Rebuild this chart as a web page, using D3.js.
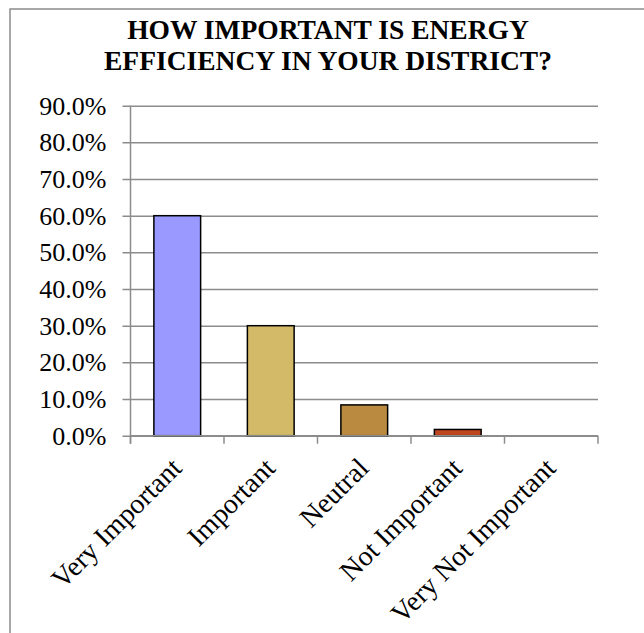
<!DOCTYPE html>
<html>
<head>
<meta charset="utf-8">
<script src="https://cdn.jsdelivr.net/npm/d3@7/dist/d3.min.js"></script>
<style>
  html, body { margin: 0; padding: 0; background: #fff; }
  svg { display: block; }
</style>
</head>
<body>
<svg id="chart" width="644" height="633"></svg>
<script>
// Survey responses: share of respondents per answer
const categories = ["Very Important", "Important", "Neutral", "Not Important", "Very Not Important"];
const values = [0.60, 0.30, 0.084, 0.017, 0.0];
const colors = ["#9999FF", "#D3BA69", "#BA8A40", "#C0461F", "#B0B0B0"];
const yTicks = [0, 0.1, 0.2, 0.3, 0.4, 0.5, 0.6, 0.7, 0.8, 0.9];
const titleLines = ["HOW IMPORTANT IS ENERGY", "EFFICIENCY IN YOUR DISTRICT?"];

const FONT = '"Liberation Serif", "Times New Roman", serif';
const GRID = "#8c8c8c";

const svg = d3.select("#chart");
const plot = { left: 130.5, right: 598, top: 105.7, bottom: 435.7 };

// Outer chart frame
svg.append("rect")
  .attr("x", 10).attr("y", 9)
  .attr("width", 800).attr("height", 800)
  .attr("fill", "none").attr("stroke", GRID).attr("stroke-width", 1.5);

// Title
svg.append("g").selectAll("text")
  .data(titleLines)
  .join("text")
  .attr("x", 328)
  .attr("y", (d, i) => 39 + i * 31)
  .attr("text-anchor", "middle")
  .style("font-family", FONT)
  .style("font-size", "27.5px")
  .style("font-weight", "bold")
  .attr("fill", "#000")
  .text(d => d);

const x = d3.scaleBand()
  .domain(categories)
  .range([plot.left, plot.right])
  .paddingInner(0.5)
  .paddingOuter(0.25);

const y = d3.scaleLinear()
  .domain([0, 0.9])
  .range([plot.bottom, plot.top]);

// Horizontal gridlines with left tick stubs
const yAxis = d3.axisLeft(y)
  .tickValues(yTicks)
  .tickFormat(d3.format(".1%"))
  .tickSize(-(plot.right - plot.left))
  .tickPadding(24);

const gy = svg.append("g")
  .attr("transform", `translate(${plot.left},0)`)
  .call(yAxis);
gy.select(".domain").remove();
gy.selectAll(".tick line")
  .attr("x1", -8)
  .attr("stroke", GRID)
  .attr("stroke-width", 1.5);
gy.selectAll(".tick text")
  .style("font-family", FONT)
  .style("font-size", "26px")
  .attr("fill", "#000");

// Vertical axis line
svg.append("line")
  .attr("x1", plot.left).attr("x2", plot.left)
  .attr("y1", plot.top).attr("y2", plot.bottom + 8)
  .attr("stroke", GRID).attr("stroke-width", 1.5);

// Bars
svg.append("g").selectAll("rect")
  .data(categories)
  .join("rect")
  .attr("x", d => x(d))
  .attr("width", x.bandwidth())
  .attr("y", (d, i) => y(values[i]))
  .attr("height", (d, i) => y(0) - y(values[i]))
  .attr("fill", (d, i) => colors[i])
  .attr("stroke", (d, i) => values[i] > 0 ? "#000" : "none")
  .attr("stroke-width", 1.5);

// Category axis: baseline plus ticks at band boundaries
svg.append("line")
  .attr("x1", plot.left).attr("x2", plot.right)
  .attr("y1", plot.bottom).attr("y2", plot.bottom)
  .attr("stroke", GRID).attr("stroke-width", 1.5);

const boundaries = d3.range(categories.length + 1)
  .map(i => plot.left + i * (plot.right - plot.left) / categories.length);
svg.append("g").selectAll("line")
  .data(boundaries)
  .join("line")
  .attr("x1", d => d).attr("x2", d => d)
  .attr("y1", plot.bottom).attr("y2", plot.bottom + 8)
  .attr("stroke", GRID).attr("stroke-width", 1.5);

// Rotated category labels
svg.append("g").selectAll("text")
  .data(categories)
  .join("text")
  .attr("text-anchor", "end")
  .style("font-family", FONT)
  .style("font-size", "28px")
  .attr("fill", "#000")
  .attr("transform", d => `translate(${x(d) + x.bandwidth() / 2 + 6},${plot.bottom + 34}) rotate(-45)`)
  .text(d => d);
</script>
</body>
</html>
